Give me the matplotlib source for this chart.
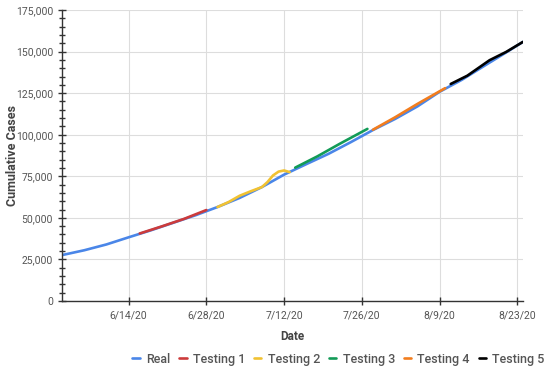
import matplotlib.pyplot as plt
import matplotlib.dates as mdates
from matplotlib.ticker import MultipleLocator, FuncFormatter
import pandas as pd

plt.rcParams['font.family'] = ['Roboto', 'DejaVu Sans']

# values
real_dates = ['2020-06-02', '2020-06-06', '2020-06-10', '2020-06-14', '2020-06-18',
              '2020-06-22', '2020-06-26', '2020-06-30', '2020-07-04', '2020-07-08',
              '2020-07-12', '2020-07-16', '2020-07-20', '2020-07-24', '2020-07-28',
              '2020-08-01', '2020-08-05', '2020-08-09', '2020-08-13', '2020-08-17',
              '2020-08-21', '2020-08-24']
real_vals = [27600, 30500, 34000, 38300, 42500, 47000, 51500, 56500, 62000, 68500,
             76000, 82300, 88500, 95500, 102800, 109500, 117000, 125800, 133000,
             141300, 149500, 155800]

t1_dates = ['2020-06-16', '2020-06-20', '2020-06-24', '2020-06-28']
t1_vals = [40600, 44900, 49400, 54700]

t2_dates = ['2020-06-30', '2020-07-02', '2020-07-04', '2020-07-06', '2020-07-08',
            '2020-07-09', '2020-07-10', '2020-07-11', '2020-07-12', '2020-07-13']
t2_vals = [56500, 59500, 63300, 66000, 68500, 71500, 75500, 77800, 78500, 77500]

t3_dates = ['2020-07-14', '2020-07-18', '2020-07-22', '2020-07-27']
t3_vals = [80200, 87000, 94500, 103500]

t4_dates = ['2020-07-28', '2020-08-01', '2020-08-05', '2020-08-10']
t4_vals = [103000, 110500, 118500, 128000]

t5_dates = ['2020-08-11', '2020-08-14', '2020-08-18', '2020-08-21', '2020-08-24']
t5_vals = [130500, 135500, 144800, 149800, 155800]

tick_dates = ['2020-06-14', '2020-06-28', '2020-07-12', '2020-07-26', '2020-08-09', '2020-08-23']

fig = plt.figure(figsize=(5.5, 3.7), dpi=100)
ax = fig.add_axes([0.1127, 0.1865, 0.838, 0.7865])

series = [
    ('Real', real_dates, real_vals, '#4a86e8'),
    ('Testing 1', t1_dates, t1_vals, '#cc3b3b'),
    ('Testing 2', t2_dates, t2_vals, '#f1c232'),
    ('Testing 3', t3_dates, t3_vals, '#129b57'),
    ('Testing 4', t4_dates, t4_vals, '#f27d1e'),
    ('Testing 5', t5_dates, t5_vals, '#000000'),
]
for name, d, v, c in series:
    ax.plot(pd.to_datetime(d), v, color=c, lw=1.9, label=name, solid_capstyle='round')

ax.set_xlim(pd.Timestamp('2020-06-02'), pd.Timestamp('2020-08-24'))
ax.set_ylim(0, 175000)
ax.set_xticks(pd.to_datetime(tick_dates))
ax.xaxis.set_major_formatter(mdates.DateFormatter('%-m/%-d/%y'))
ax.yaxis.set_major_locator(MultipleLocator(25000))
ax.yaxis.set_minor_locator(MultipleLocator(5000))
ax.yaxis.set_major_formatter(FuncFormatter(lambda v, p: f'{int(v):,}'))

for s in ['top', 'right']:
    ax.spines[s].set_visible(False)
for s in ['left', 'bottom']:
    ax.spines[s].set_color('#333333')
    ax.spines[s].set_linewidth(1.0)

ax.grid(True, which='major', color='#dddddd', lw=0.8)
ax.set_axisbelow(True)
ax.tick_params(axis='both', which='major', direction='inout', length=6, width=1,
               color='#333333', labelsize=7.5, labelcolor='#555555')
ax.tick_params(axis='y', which='minor', direction='inout', length=4, width=1, color='#333333')
ax.tick_params(axis='x', pad=4)

ax.set_xlabel('Date', fontsize=8.5, fontweight='bold', color='#444444', labelpad=7)
ax.set_ylabel('Cumulative Cases', fontsize=9, fontweight='bold', color='#444444')
ax.yaxis.set_label_coords(-0.093, 0.5)

ax.legend(loc='center', bbox_to_anchor=(0.6, -0.2), ncol=6, frameon=False,
          handlelength=0.6, handletextpad=0.5, columnspacing=0.7,
          prop={'size': 9, 'weight': 'medium'}, labelcolor='#555555')

fig.savefig('out.png', dpi=100)
